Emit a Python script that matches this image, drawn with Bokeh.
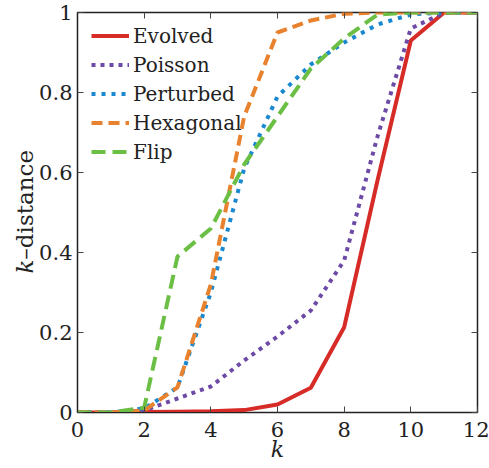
from bokeh.plotting import figure
from bokeh.models import Range1d, LinearAxis, FixedTicker, Legend, LegendItem, CustomJSTickFormatter, Div
from bokeh.layouts import row
from bokeh.embed import file_html
from bokeh.resources import INLINE

k = [0, 1, 2, 3, 4, 5, 6, 7, 8, 9, 10, 11, 12]
evolved = [0, 0, 0.001, 0.002, 0.003, 0.006, 0.02, 0.062, 0.213, 0.58, 0.93, 1, 1]
poisson = [0, 0, 0.005, 0.035, 0.065, 0.13, 0.19, 0.255, 0.38, 0.69, 0.96, 1, 1]
perturbed = [0, 0, 0.01, 0.063, 0.3, 0.61, 0.79, 0.87, 0.925, 0.97, 0.995, 1, 1]
hexagonal = [0, 0, 0.005, 0.063, 0.32, 0.74, 0.95, 0.98, 0.997, 1, 1, 1, 1]
flip = [0, 0, 0.012, 0.39, 0.46, 0.62, 0.74, 0.86, 0.935, 0.995, 1, 1, 1]

names = ["Evolved", "Poisson", "Perturbed", "Hexagonal", "Flip"]
series = [evolved, poisson, perturbed, hexagonal, flip]
colors = ["#d62b27", "#6c4aa6", "#1a88cf", "#e8822e", "#6cbf45"]
dashes = ["solid", "4 5", "4 6", "11 6", "14 7"]

xticks = [0, 2, 4, 6, 8, 10, 12]
yticks = [0, 0.2, 0.4, 0.6, 0.8, 1]

FONT = "DejaVu Serif"
LEFT = 36

p = figure(width=489 - LEFT, height=468, output_backend="svg", toolbar_location=None,
           x_range=Range1d(0, 12), y_range=Range1d(0, 1),
           min_border_left=76 - LEFT, min_border_right=12, min_border_top=12, min_border_bottom=56)
p.xgrid.visible = False
p.ygrid.visible = False
p.outline_line_color = "#222222"
p.outline_line_width = 1.5
p.background_fill_color = "white"

for ax in p.xaxis:
    ax.ticker = FixedTicker(ticks=xticks)
for ax in p.yaxis:
    ax.ticker = FixedTicker(ticks=yticks)

for ax in list(p.xaxis) + list(p.yaxis):
    ax.major_tick_in = 6
    ax.major_tick_out = 0
    ax.minor_tick_line_color = None
    ax.axis_line_color = "#222222"
    ax.major_tick_line_color = "#444444"
    ax.major_label_text_font = FONT
    ax.major_label_text_font_size = "21px"
    ax.major_label_text_color = "#222222"
p.xaxis.major_label_standoff = 9
p.yaxis.major_label_standoff = 5
p.yaxis.formatter = CustomJSTickFormatter(code="return (tick==0||tick==1) ? tick.toFixed(0) : tick.toFixed(1);")

p.xaxis.axis_label = "k"
p.xaxis.axis_label_text_font = FONT
p.xaxis.axis_label_text_font_size = "22px"
p.xaxis.axis_label_text_font_style = "italic"
p.xaxis.axis_label_text_color = "#222222"
p.xaxis.axis_label_standoff = -3

top = LinearAxis(ticker=FixedTicker(ticks=xticks), formatter=CustomJSTickFormatter(code="return '';"),
                 major_tick_in=6, major_tick_out=0, minor_tick_line_color=None,
                 axis_line_color=None, major_tick_line_color="#444444", major_label_standoff=0)
right = LinearAxis(ticker=FixedTicker(ticks=yticks), formatter=CustomJSTickFormatter(code="return '';"),
                   major_tick_in=6, major_tick_out=0, minor_tick_line_color=None,
                   axis_line_color=None, major_tick_line_color="#444444", major_label_standoff=0)
p.add_layout(top, "above")
p.add_layout(right, "right")

items = []
for name, ys, c, d in zip(names, series, colors, dashes):
    r = p.line(k, ys, line_color=c, line_width=4, line_dash=d)
    items.append(LegendItem(label=name, renderers=[r]))

leg = Legend(items=items, location=(14, 246), background_fill_alpha=0, border_line_alpha=0,
             label_text_font=FONT, label_text_font_size="20px", label_text_color="#222222",
             glyph_width=38, glyph_height=29, label_height=29, spacing=0, padding=0, margin=0,
             label_standoff=4)
p.add_layout(leg)

ylabel_html = (
    '<div style="writing-mode:vertical-rl; transform:rotate(180deg); white-space:nowrap; '
    'margin-top:150px; margin-left:12px; font-family:\'DejaVu Serif\'; font-size:23px; '
    'line-height:26px; color:#222222;"><i>k</i>–distance</div>'
)
ydiv = Div(text=ylabel_html, width=LEFT, height=468, margin=0)

layout = row(ydiv, p, spacing=0)
open("out.html", "w").write(file_html(layout, INLINE))
